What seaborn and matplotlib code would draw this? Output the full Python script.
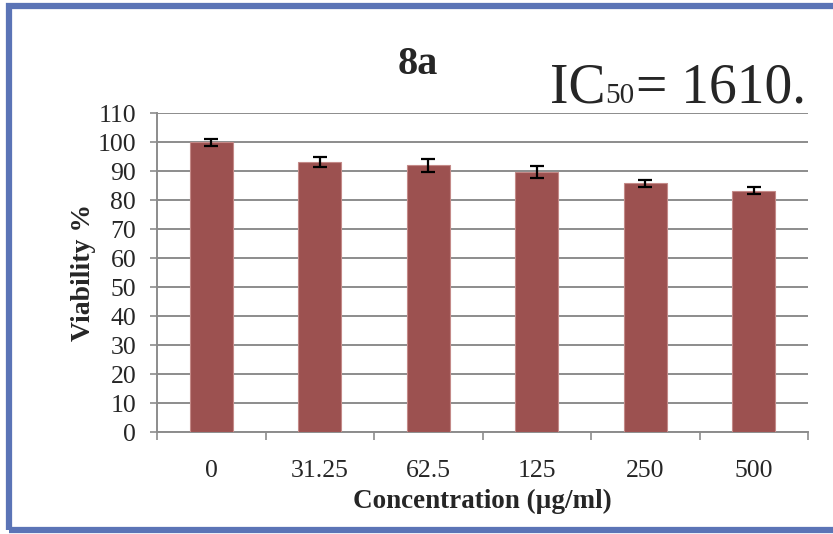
import numpy as np
import pandas as pd
import matplotlib
matplotlib.use("Agg")
import matplotlib.pyplot as plt
import seaborn as sns
from matplotlib.patches import Rectangle

# Data
concentrations = ["0", "31.25", "62.5", "125", "250", "500"]
viability = [100.0, 93.2, 92.0, 89.7, 85.8, 83.3]
errors = [1.2, 1.8, 2.2, 2.0, 1.2, 1.3]
y_ticks = list(range(0, 111, 10))

df = pd.DataFrame({"Concentration": concentrations, "Viability": viability})

sns.set_style("white")
plt.rcParams["font.family"] = ["Liberation Serif", "DejaVu Serif"]

fig = plt.figure(figsize=(8.33, 5.34), dpi=100)
fig.patch.set_facecolor("white")
ax = fig.add_axes([0.1885, 0.191, 0.7815, 0.597])

# blue frame around the chart area
fig.patches.append(Rectangle((0.011, 0.007), 1.2, 0.981, transform=fig.transFigure,
                             fill=False, edgecolor="#5b74b6", linewidth=4.5, zorder=0))

sns.barplot(data=df, x="Concentration", y="Viability", color="#9c5150",
            saturation=1, width=0.4, edgecolor="#c48a88", linewidth=0.8, ax=ax, zorder=3)
ax.errorbar(np.arange(len(concentrations)), viability, yerr=errors, fmt="none",
            ecolor="black", elinewidth=1.6, capsize=5, capthick=1.6, zorder=4)

ax.set_ylim(0, 110)
ax.set_xlim(-0.5, len(concentrations) - 0.5)
ax.set_yticks(y_ticks)
ax.yaxis.grid(True, color="#8c8c8c", linewidth=1.4, zorder=0)
ax.set_axisbelow(True)

for s in ["top", "right"]:
    ax.spines[s].set_visible(False)
for s in ["left", "bottom"]:
    ax.spines[s].set_color("#8c8c8c")
    ax.spines[s].set_linewidth(1.4)

ax.tick_params(axis="y", direction="out", length=5, width=1.2, color="#8c8c8c",
               labelsize=18.5, pad=10, left=True)
ax.tick_params(axis="x", which="major", length=0, labelsize=18.5, pad=20)
ax.set_xticks(np.arange(-0.5, len(concentrations)), minor=True)
ax.tick_params(axis="x", which="minor", direction="out", length=6, width=1.2,
               color="#8c8c8c", bottom=True)

ax.set_xlabel("Concentration (\u00b5g/ml)", fontsize=19.5, fontweight="bold", labelpad=5)
ax.set_ylabel("Viability %", fontsize=20, fontweight="bold", labelpad=1)

fig.text(0.502, 0.880, "8a", fontsize=29, fontweight="bold", ha="center", va="center")

t1 = fig.text(0.660, 0.808, "IC", fontsize=40, va="baseline", ha="left")
t2 = fig.text(0.0, 0.808, "50", fontsize=21, va="baseline", ha="left")
t3 = fig.text(0.0, 0.808, "= 1610.", fontsize=40, va="baseline", ha="left")
fig.canvas.draw()
r = fig.canvas.get_renderer()
bb1 = t1.get_window_extent(r)
t2.set_x(fig.transFigure.inverted().transform((bb1.x1, 0))[0])
bb2 = t2.get_window_extent(r)
t3.set_x(fig.transFigure.inverted().transform((bb2.x1 + 2, 0))[0])

fig.savefig("out.png", dpi=100)
